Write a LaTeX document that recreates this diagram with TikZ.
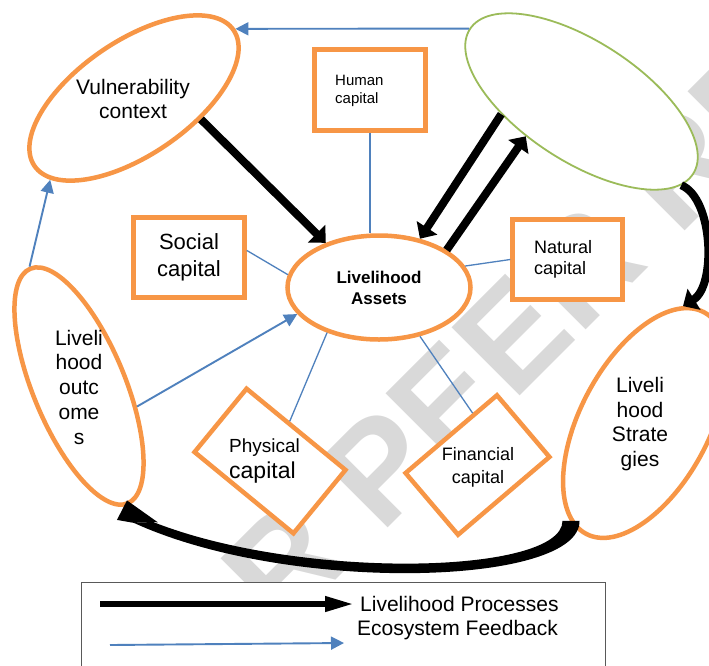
\documentclass[tikz,border=0pt]{standalone}
\usepackage{fontspec}
\setmainfont{Liberation Sans}
\usetikzlibrary{shapes.geometric,arrows.meta,calc}
\definecolor{lorange}{HTML}{F79646}
\definecolor{lgreen}{HTML}{9BBB59}
\definecolor{lblue}{HTML}{4F81BD}
\begin{document}
\begin{tikzpicture}[x=1pt,y=-1pt,
  obox/.style={rectangle,draw=lorange,line width=4.5pt,fill=white,inner sep=0pt},
  oell/.style={ellipse,draw=lorange,line width=4.5pt,fill=white,inner sep=0pt},
  gell/.style={ellipse,draw=lgreen,line width=1.8pt,fill=white,inner sep=0pt},
  txt/.style={inner sep=0pt,align=center,text=black},
  thinlink/.style={draw=lblue,line width=1.3pt},
  feed/.style={draw=lblue,line width=1.9pt,-{Triangle[length=13pt,width=13pt]}},
  proc/.style={draw=black,line width=8pt,-{Triangle[length=13pt,width=24pt]}}]
\useasboundingbox (0,0) rectangle (709,665);
\fill[white] (0,0) rectangle (709,665);
% watermark
\node[rotate=45,anchor=base west,inner sep=0pt,text=black!15,
      font=\bfseries\fontsize{140}{140}\selectfont] (wm) at (144.6,771.4) {FOR PEER REVIEW};
% ellipses
\node[oell,minimum width=241pt,minimum height=114pt,rotate=34.3] (vuln) at (134,98) {};
\node[txt,font=\fontsize{21}{24}\selectfont] (vulnt) at (133,99) {Vulnerability\\context};
\node[gell,minimum width=266pt,minimum height=120pt,rotate=-33] (green) at (581.5,101.5) {};
\node[oell,minimum width=254pt,minimum height=92pt,rotate=-67.5] (outcomes) at (79,386) {};
\node[txt,font=\fontsize{21}{24.75}\selectfont] (outcomest) at (79,387) {Liveli\\hood\\outc\\ome\\s};
\node[oell,minimum width=251pt,minimum height=129pt,rotate=62] (strategies) at (645,423) {};
\node[txt,font=\fontsize{21}{24.7}\selectfont] (strategiest) at (640,424) {Liveli\\hood\\Strate\\gies};
\node[oell,minimum width=183pt,minimum height=104pt,align=center,
      font=\bfseries\fontsize{17}{21}\selectfont] (assets) at (379,287.5) {Livelihood\\Assets};
% boxes
\node[obox,minimum width=111pt,minimum height=81pt] (human) at (370,90) {};
\node[txt,align=left,anchor=west,font=\fontsize{15}{18}\selectfont] (humant) at (335,91) {Human\\capital};
\node[obox,minimum width=111pt,minimum height=80pt,align=center,
      font=\fontsize{22}{27}\selectfont] (social) at (189,257.5) {Social\\capital};
\node[obox,minimum width=110pt,minimum height=80pt] (natural) at (567.5,259.5) {};
\node[txt,align=left,anchor=west,font=\fontsize{18}{21}\selectfont] (naturalt) at (534,259.5) {Natural\\capital};
\node[obox,minimum width=128pt,minimum height=82pt,rotate=-39.4] (physical) at (270,461) {};
\node[txt,anchor=west,font=\fontsize{19}{23}\selectfont] (physt1) at (229,448) {Physical};
\node[txt,anchor=west,font=\fontsize{23}{27}\selectfont] (physt2) at (229,473) {capital};
\node[obox,minimum width=120pt,minimum height=81pt,rotate=40.4] (financial) at (477.5,465) {};
\node[txt,font=\fontsize{18}{23}\selectfont] (financialt) at (478,467) {Financial\\capital};
% thin links
\draw[thinlink] (human.south) -- (assets.north -| human.south);
\draw[thinlink] (social.7) -- (assets.172);
\draw[thinlink] (natural.west) -- (assets.14);
\draw[thinlink] (assets.221) -- (physical.103.5);
\draw[thinlink] (assets.310) -- (financial.55);
% ecosystem feedback
\draw[feed] (green.west) -- (vuln.east);
\draw[feed] (outcomes.west) -- (vuln.190);
\draw[feed] (outcomes.48) -- (assets.198);
% livelihood processes
\draw[proc] (vuln.-52) -- (assets.140.5);
\draw[proc] (green.222) -- (assets.50.5);
\draw[proc] (assets.29) -- (green.245);
\draw[proc] (green.-7.5) .. controls +(32,13) and +(33.5,-20.6) .. (strategies.10.8);
\coordinate (sb) at (strategies.171.8);
\coordinate (ob) at (outcomes.east);
\fill[black] ($(sb)+(9,-1)$) .. controls ($(sb)+(10,64)$) and ($(ob)+(162,89)$) .. ($(ob)+(5.5,17.5)$)
  -- ($(ob)+(24.5,16.5)$) .. controls ($(ob)+(172,75)$) and ($(sb)+(-8,53)$) .. ($(sb)+(-8,-1)$) -- cycle;
\fill[black] ($(ob)+(-1.5,-5)$) -- ($(ob)+(-11.5,14.5)$) -- ($(ob)+(5.5,17.5)$)
  -- ($(ob)+(24.5,16.5)$) -- ($(ob)+(29.5,17)$) -- cycle;
% legend
\node[rectangle,draw=black!65,line width=1pt,fill=white,minimum width=524pt,minimum height=130pt,
      anchor=north west,inner sep=0pt] (legend) at (81,582) {};
\node[txt,anchor=west,font=\fontsize{21}{24}\selectfont] (lt1) at (360,604) {Livelihood Processes};
\node[txt,anchor=west,font=\fontsize{21}{24}\selectfont] (lt2) at (357,630) {Ecosystem Feedback};
\coordinate (la) at (100,604);
\coordinate (lb) at (110,645);
\coordinate (lc) at (344,643);
\draw[draw=black,line width=6.5pt,-{Triangle[length=30pt,width=14pt]}] (la) -- ([xshift=-5pt]lt1.west);
\draw[feed] (lb) -- (lc);
\end{tikzpicture}
\end{document}
